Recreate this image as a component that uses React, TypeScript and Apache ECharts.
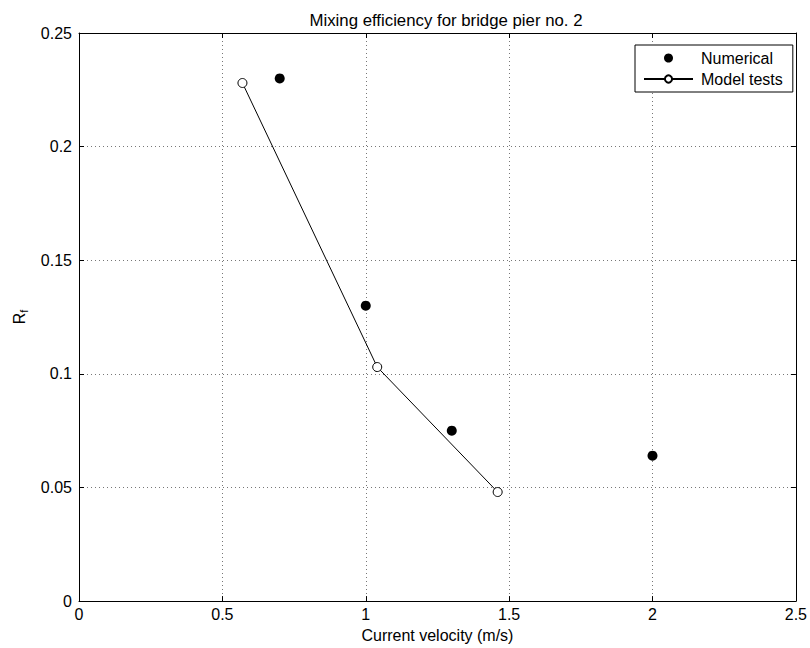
import React, { useEffect, useRef } from "react";
import * as echarts from "echarts";

const numericalX = [0.7, 1.0, 1.3, 2.0];
const numericalY = [0.23, 0.13, 0.075, 0.064];
const modelX = [0.57, 1.04, 1.46];
const modelY = [0.228, 0.103, 0.048];

const FONT = "Liberation Sans, Arial, sans-serif";

export default function App() {
  const ref = useRef<HTMLDivElement>(null);
  useEffect(() => {
    document.body.style.margin = "0";
    const chart = echarts.init(ref.current!, null, { renderer: "svg" });
    const axisCommon = {
      axisLine: { show: true, onZero: false, lineStyle: { color: "#000", width: 1 } },
      axisTick: { show: true, inside: true, length: 5, lineStyle: { color: "#000" } },
    };
    chart.setOption({
      animation: false,
      backgroundColor: "#fff",
      textStyle: { fontFamily: FONT },
      title: {
        text: "Mixing efficiency for bridge pier no. 2",
        left: 441,
        top: 7,
        textAlign: "center",
        textStyle: { fontSize: 16.8, fontWeight: "normal", color: "#000", fontFamily: FONT },
      },
      legend: {
        left: 635,
        top: 45,
        orient: "vertical",
        backgroundColor: "#fff",
        borderColor: "#000",
        borderWidth: 1,
        borderRadius: 0,
        padding: [5, 10, 5, 8],
        itemGap: 5,
        itemWidth: 49,
        itemHeight: 9,
        textStyle: { fontSize: 16, color: "#000", fontFamily: FONT, padding: [0, 0, 0, 3] },
        data: ["Numerical", "Model tests"],
      },
      grid: { left: 79, right: 13, top: 33, bottom: 45 },
      xAxis: [
        {
          type: "value",
          min: 0,
          max: 2.5,
          interval: 0.5,
          name: "Current velocity (m/s)",
          nameLocation: "middle",
          nameGap: 24,
          nameTextStyle: { fontSize: 16, color: "#000", fontFamily: FONT },
          axisLabel: { fontSize: 16, color: "#000", margin: 5, fontFamily: FONT },
          splitLine: { show: true, lineStyle: { color: "#777", type: [1, 3], width: 1 } },
          ...axisCommon,
        },
        {
          type: "value",
          position: "top",
          min: 0,
          max: 2.5,
          interval: 0.5,
          axisLabel: { show: false },
          splitLine: { show: false },
          ...axisCommon,
        },
      ],
      yAxis: [
        {
          type: "value",
          min: 0,
          max: 0.25,
          interval: 0.05,
          name: "{r|R}{s|f}",
          nameLocation: "middle",
          nameGap: 50,
          nameRotate: 90,
          nameTextStyle: {
            rich: {
              r: { fontSize: 16, color: "#000", fontFamily: FONT },
              s: { fontSize: 11, color: "#000", fontFamily: FONT, verticalAlign: "bottom", padding: [9, 0, 0, 0] },
            },
          },
          axisLabel: { fontSize: 16, color: "#000", margin: 7, fontFamily: FONT },
          splitLine: { show: true, lineStyle: { color: "#777", type: [1, 3], width: 1 } },
          ...axisCommon,
        },
        {
          type: "value",
          position: "right",
          min: 0,
          max: 0.25,
          interval: 0.05,
          axisLabel: { show: false },
          splitLine: { show: false },
          ...axisCommon,
        },
      ],
      series: [
        {
          name: "Numerical",
          type: "scatter",
          symbol: "circle",
          symbolSize: 10,
          itemStyle: { color: "#000", opacity: 1 },
          data: numericalX.map((x, i) => [x, numericalY[i]]),
        },
        {
          name: "Model tests",
          type: "line",
          symbol: "circle",
          symbolSize: 9,
          showAllSymbol: true,
          lineStyle: { color: "#000", width: 1 },
          itemStyle: { color: "#fff", borderColor: "#000", borderWidth: 1 },
          data: modelX.map((x, i) => [x, modelY[i]]),
        },
      ],
    });
    return () => chart.dispose();
  }, []);
  return (
    <div
      ref={ref}
      style={{ position: "absolute", left: 0, top: 0, width: 810, height: 648 }}
    />
  );
}
